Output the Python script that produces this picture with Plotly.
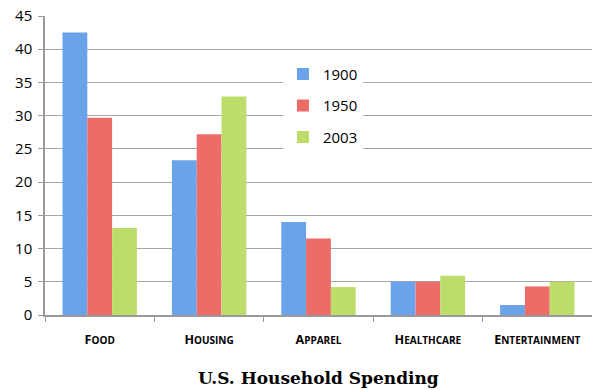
import plotly.graph_objects as go

categories = ["Food", "Housing", "Apparel", "Healthcare", "Entertainment"]
years = ["1900", "1950", "2003"]
values_1900 = [42.5, 23.3, 14.0, 5.0, 1.5]
values_1950 = [29.7, 27.2, 11.5, 5.0, 4.3]
values_2003 = [13.1, 32.9, 4.2, 5.9, 5.0]
y_ticks = [0, 5, 10, 15, 20, 25, 30, 35, 40, 45]
title_text = "U.S. Household Spending"

colors = ["#6aa3ea", "#ec6c68", "#bddd6a"]
series = [values_1900, values_1950, values_2003]


def small_caps(word):
    w = word.upper()
    return f"<b>{w[0]}<span style='font-size:10px'>{w[1:]}</span></b>"


tick_labels = [small_caps(c) for c in categories]

fig = go.Figure()
for i, (yr, vals, col) in enumerate(zip(years, series, colors)):
    fig.add_trace(go.Bar(
        x=categories, y=vals, name=yr, legendgroup=yr,
        marker=dict(color=col, line=dict(width=0)),
    ))

fig.update_layout(
    width=592, height=390,
    margin=dict(l=45, r=0, t=16, b=75),
    paper_bgcolor="white", plot_bgcolor="white",
    barmode="group", bargap=0.32, bargroupgap=0,
    font=dict(family="Open Sans", color="black"),
    legend=dict(
        x=0.435, y=0.86, xanchor="left", yanchor="top",
        bgcolor="white", font=dict(size=15, family="Open Sans"),
        tracegroupgap=9, itemwidth=30,
    ),
    xaxis=dict(
        tickmode="array", tickvals=categories, ticktext=tick_labels,
        tickfont=dict(size=12.5, family="Open Sans", color="black"),
        showline=True, linecolor="#999999", linewidth=1.5,
        ticks="outside", tickson="boundaries", ticklen=5, tickcolor="#999999",
        ticklabelstandoff=12,
        showgrid=False, automargin=False,
    ),
    yaxis=dict(
        range=[0, 45], tickvals=y_ticks,
        tickfont=dict(size=15, family="Open Sans", color="black"),
        showline=True, linecolor="#999999", linewidth=1.5,
        ticks="outside", ticklen=5, tickcolor="#999999",
        ticklabelstandoff=3,
        showgrid=True, gridcolor="#a6a6a6", gridwidth=1.3,
        zeroline=False, automargin=False,
    ),
    annotations=[dict(
        text=f"<b>{title_text}</b>", x=0.5, xref="paper", y=0, yref="paper",
        yshift=-63, xanchor="center", yanchor="middle", showarrow=False,
        font=dict(size=17, family="DejaVu Serif", color="black"),
    )],
)

fig.write_html("out.html", config={"displayModeBar": False},
               post_script="document.body.style.margin='0';")
